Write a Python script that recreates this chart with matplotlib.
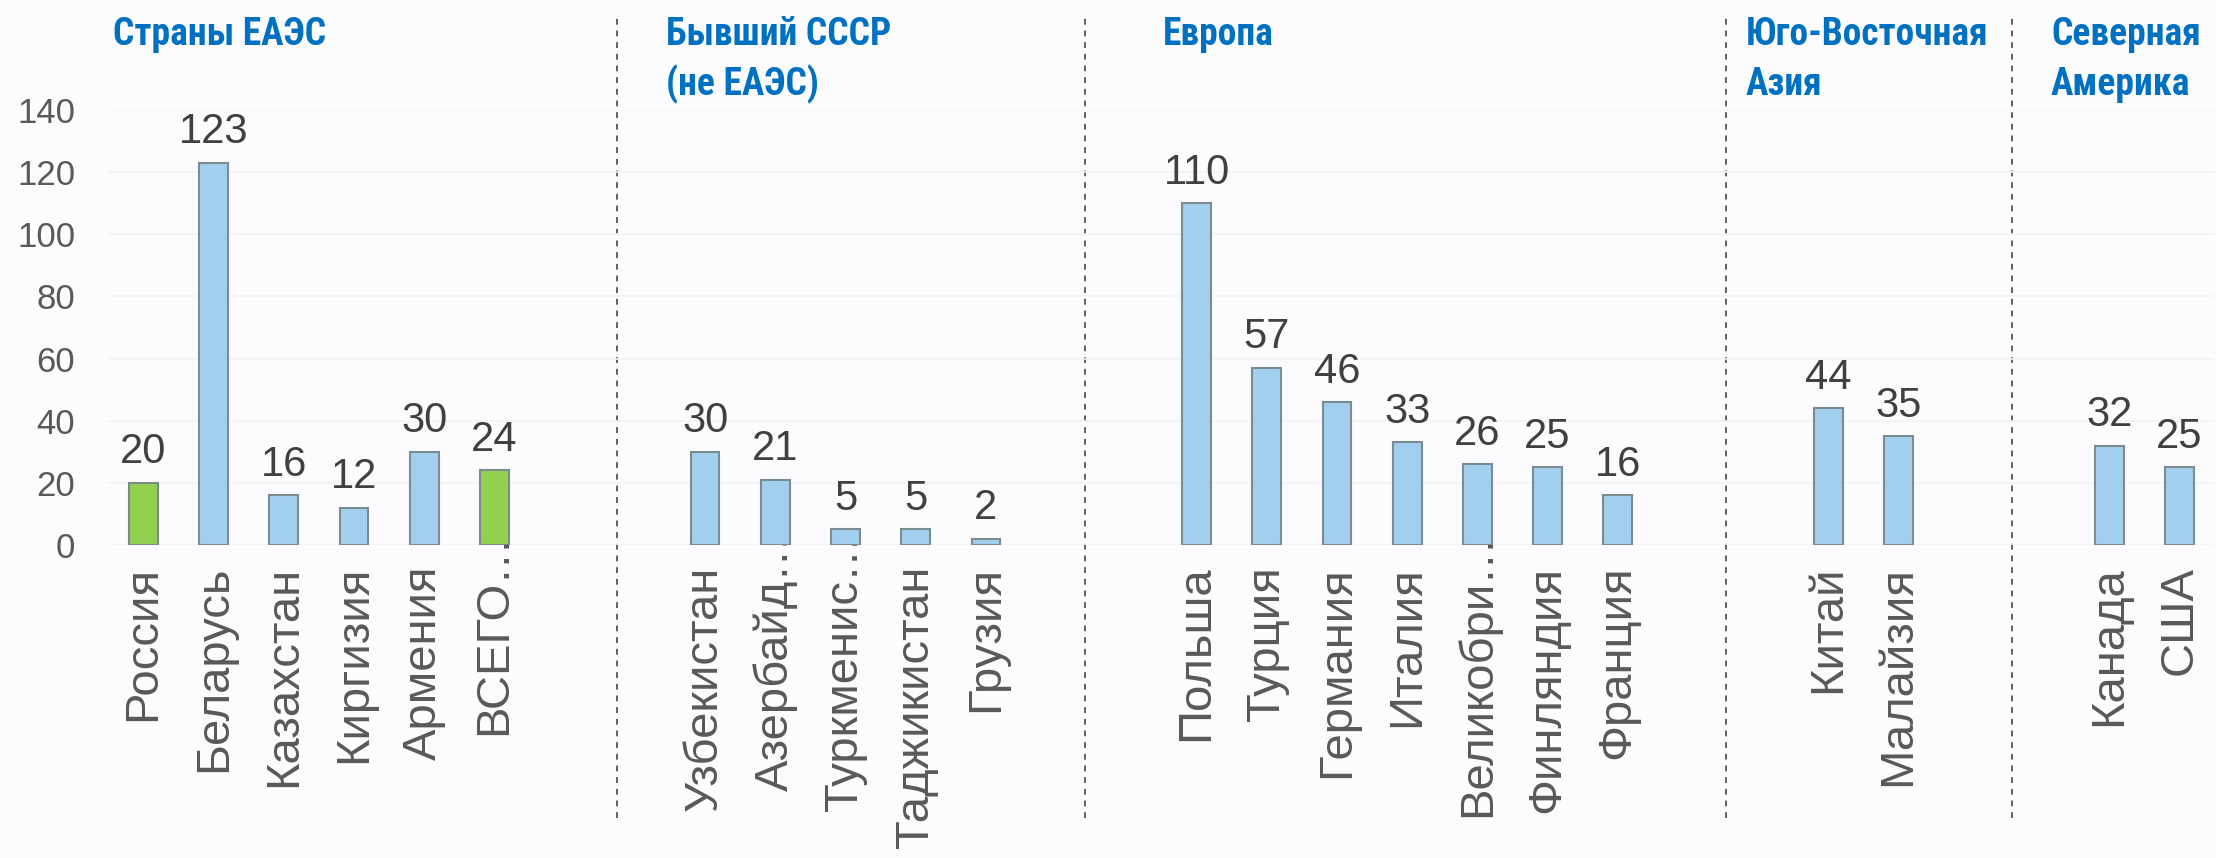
"""
Bar chart by country groups (EAEU, former USSR, Europe, SE Asia, North America).
"""
import matplotlib
matplotlib.use("Agg")
import matplotlib.pyplot as plt
from matplotlib.transforms import ScaledTranslation

# data
countries = [
    "Россия", "Беларусь", "Казахстан", "Киргизия", "Армения", "ВСЕГО…",
    "Узбекистан", "Азербайд…", "Туркменис…", "Таджикистан", "Грузия",
    "Польша", "Турция", "Германия", "Италия", "Великобри…", "Финляндия", "Франция",
    "Китай", "Малайзия",
    "Канада", "США",
]
values = [20, 123, 16, 12, 30, 24,
          30, 21, 5, 5, 2,
          110, 57, 46, 33, 26, 25, 16,
          44, 35,
          32, 25]
highlight = ["Россия", "ВСЕГО…"]
group_sizes = [6, 5, 7, 2, 2]
group_titles = ["Страны ЕАЭС", "Бывший СССР\n(не ЕАЭС)", "Европа",
                "Юго-Восточная\nАзия", "Северная\nАмерика"]
yticks = [0, 20, 40, 60, 80, 100, 120, 140]

BLUE_BAR = "#A3CFEE"
GREEN_BAR = "#92D050"
EDGE = "#7A8C8E"
TITLE_BLUE = "#0070C0"
BG = "#FCFCFF"

# slot positions: two empty slots between groups
positions = []
start = 0
for size in group_sizes:
    positions.extend(range(start, start + size))
    start += size + 2

fig = plt.figure(figsize=(22.16, 8.58), dpi=100, facecolor=BG)
ax = fig.add_axes([0.0489, 0.3648, 0.9504, 0.507], facecolor=BG)

colors = [GREEN_BAR if c in highlight else BLUE_BAR for c in countries]
bars = ax.bar(positions, values, width=0.41, color=colors,
              edgecolor=EDGE, linewidth=1.5, zorder=3)

for b, v in zip(bars, values):
    ax.annotate(str(v), (b.get_x() + b.get_width() / 2, v),
                xytext=(0, 14), textcoords="offset points",
                ha="center", va="baseline", fontsize=30,
                family="Liberation Sans", color="#404040")

ax.set_xlim(-0.5, positions[-1] + 0.5)
ax.set_ylim(0, 140)
ax.set_yticks(yticks)
ax.set_yticklabels([str(t) for t in yticks], fontsize=25,
                   family="Liberation Sans", color="#595959")
ax.set_xticks(positions)
ax.set_xticklabels(countries, rotation=90, fontsize=34, va="top",
                   family="Liberation Sans", color="#595959")
ax.tick_params(axis="both", length=0)
ax.tick_params(axis="y", pad=24)
ax.tick_params(axis="x", pad=15)
ax.grid(axis="y", color="#F3F3F6", linewidth=1.2, zorder=0)
for s in ax.spines.values():
    s.set_visible(False)

# truncated labels: the ellipsis runs up past the axis, like in the source
for lab in ax.get_xticklabels():
    if lab.get_text().endswith("…"):
        lab.set_transform(lab.get_transform() + ScaledTranslation(0, 0.33, fig.dpi_scale_trans))
        lab.set_zorder(4)

# dashed separators between groups
sep_x = [6.745, 13.41, 22.54, 26.61]
for x in sep_x:
    ax.axvline(x, ymin=-0.627, ymax=1.215, color="#606060", linestyle=(0, (3, 3)),
               linewidth=1.4, clip_on=False, zorder=1)

# group titles
title_x_px = [113, 666, 1163, 1746, 2051]
for title, xp in zip(group_titles, title_x_px):
    for i, line in enumerate(title.split("\n")):
        fig.text(xp / 2216, 1 - (45 + 50 * i) / 858, line,
                 ha="left", va="baseline", fontsize=27, fontweight="bold",
                 fontstretch="condensed",
                 family=["Roboto Condensed", "Roboto", "DejaVu Sans"], color=TITLE_BLUE)

fig.savefig("out.png", dpi=100, facecolor=BG)
